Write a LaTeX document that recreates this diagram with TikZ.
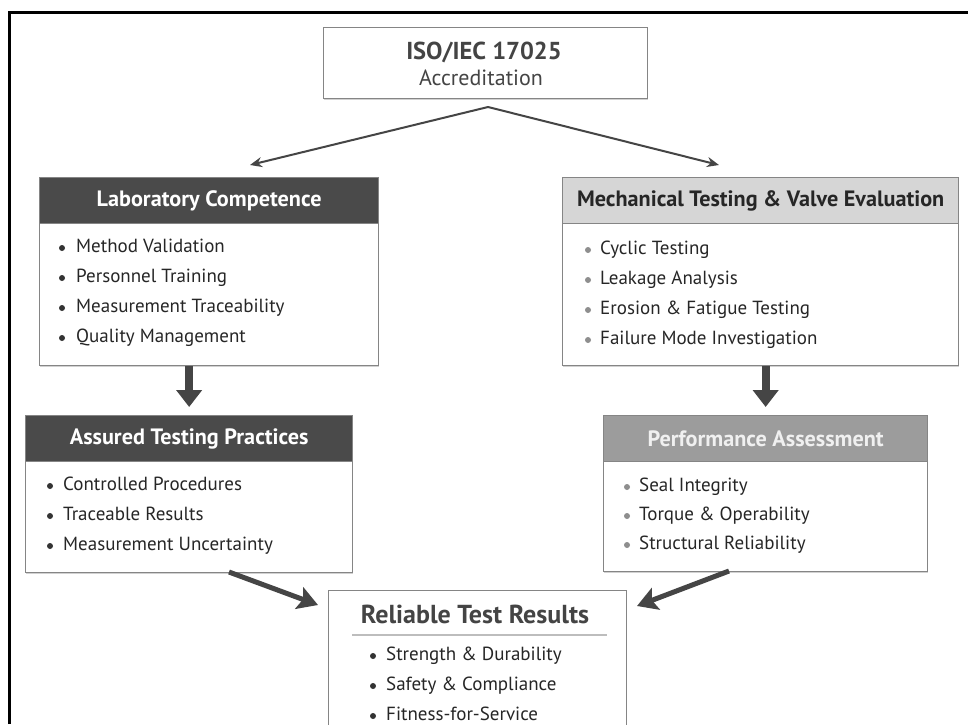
\documentclass[tikz,border=0pt]{standalone}
\usepackage{fontspec}
\setmainfont{PT Sans}
\usetikzlibrary{arrows.meta,calc,shadows}

\definecolor{boxline}{HTML}{858585}
\definecolor{hdrdark}{HTML}{4A4A4A}
\definecolor{hdrlight}{HTML}{D6D6D6}
\definecolor{hdrmid}{HTML}{9C9C9C}
\definecolor{ink}{HTML}{262626}
\definecolor{softink}{HTML}{444444}
\definecolor{dotdark}{HTML}{333333}
\definecolor{dotlight}{HTML}{8E8E8E}
\definecolor{arrowgray}{HTML}{454545}
\definecolor{rulegray}{HTML}{BDBDBD}

\begin{document}
\begin{tikzpicture}[x=1pt,y=-1pt,
  panel/.style={rectangle, draw=boxline, line width=1.3pt, anchor=north west, inner sep=0pt},
  header/.style={panel, font=\fontsize{22.2}{26}\selectfont\bfseries},
  body/.style={panel, fill=white,
               general shadow={fill=black, opacity=0.18, shadow xshift=0.8pt, shadow yshift=-1.6pt}},
  item/.style={anchor=west, inner sep=0pt, text height=13pt, text depth=4pt,
               font=\fontsize{19}{23}\selectfont, text=ink},
  thinarrow/.style={draw=arrowgray, line width=2pt, -{Stealth[length=12pt,width=10pt]}},
  fatarrow/.style={draw=arrowgray, line width=8pt, -{Triangle[length=17pt,width=25pt]}},
  diagarrow/.style={draw=arrowgray, line width=5pt, -{Stealth[length=20pt,width=23pt,inset=4pt]}}
]
\useasboundingbox (0,0) rectangle (968,724);
\fill[white] (0,0) rectangle (968,724);

% outer frame (top and left edges)
\draw[line width=3pt] (9.5,724) -- (9.5,12.5) -- (968,12.5);

% accreditation box
\node[body, minimum width=324pt, minimum height=71pt] (iso) at (323,27) {};
\node[font=\fontsize{24.5}{28}\selectfont\bfseries, text=softink] (isotitle) at (484,52) {ISO/IEC 17025};
\node[font=\fontsize{22}{25}\selectfont, text=softink] (isosub) at (481,78) {Accreditation};
\coordinate (split) at (488,107);
\coordinate (lctip) at (250,165);
\coordinate (mtip) at (719,165);

% laboratory competence
\node[body, minimum width=339pt, minimum height=142pt] (lcb) at (39,223) {};
\node[header, fill=hdrdark, text=white, minimum width=339pt, minimum height=46pt] (lch) at (39,177) {Laboratory Competence};
\foreach \t/\yy [count=\i] in {Method Validation/248, Personnel Training/278,
    Measurement Traceability/308, Quality Management/338} {
  \fill[dotdark] (62,\yy) circle (3);
  \node[item] (lc\i) at (76,\yy) {\t};
}

% mechanical testing
\node[body, minimum width=396pt, minimum height=142pt] (mb) at (562,223) {};
\node[header, fill=hdrlight, text=ink, minimum width=396pt, minimum height=46pt] (mh) at (562,177) {Mechanical Testing \& Valve Evaluation};
\foreach \t/\yy [count=\i] in {Cyclic Testing/250, Leakage Analysis/280,
    Erosion \& Fatigue Testing/310, Failure Mode Investigation/340} {
  \fill[dotlight] (588,\yy) circle (3);
  \node[item] (mt\i) at (600,\yy) {\t};
}

% assured testing practices
\node[body, minimum width=327pt, minimum height=111pt] (ab) at (25,461) {};
\node[header, fill=hdrdark, text=white, minimum width=327pt, minimum height=46pt] (ah) at (25,415) {Assured Testing Practices};
\foreach \t/\yy [count=\i] in {Controlled Procedures/486, Traceable Results/516,
    Measurement Uncertainty/546} {
  \fill[dotdark] (50,\yy) circle (3);
  \node[item] (at\i) at (63,\yy) {\t};
}

% performance assessment
\node[body, minimum width=324pt, minimum height=110pt] (pb) at (603,461) {};
\node[header, fill=hdrmid, text=white!94!black, minimum width=324pt, minimum height=46pt] (ph) at (603,415) {Performance Assessment};
\foreach \t/\yy [count=\i] in {Seal Integrity/487, Torque \& Operability/516,
    Structural Reliability/545} {
  \fill[dotlight] (627,\yy) circle (3);
  \node[item] (pa\i) at (639,\yy) {\t};
}

% reliable test results
\node[body, minimum width=298pt, minimum height=140pt] (rb) at (328,590) {};
\node[font=\fontsize{26}{30}\selectfont\bfseries, text=softink] (rtitle) at (475,614) {Reliable Test Results};
\draw[rulegray, line width=1.2pt] (352,635) -- (607,635);
\foreach \t/\yy [count=\i] in {Strength \& Durability/656, Safety \& Compliance/686,
    Fitness-for-Service/716} {
  \fill[dotdark] (373,\yy) circle (3);
  \node[item] (rt\i) at (386,\yy) {\t};
}

% connectors
\draw[thinarrow] (split) -- (lctip);
\draw[thinarrow] (split) -- (mtip);
\draw[fatarrow, shorten >=8pt] (lcb.south -| ah.north) -- (ah.north);
\draw[fatarrow, shorten >=8pt] (mb.south -| ph.north) -- (ph.north);
\coordinate (aout) at (229,572);
\coordinate (ain) at (318,605);
\coordinate (pout) at (729,571);
\coordinate (pin) at (637,606);
\draw[diagarrow] (aout) -- (ain);
\draw[diagarrow] (pout) -- (pin);
\end{tikzpicture}
\end{document}
